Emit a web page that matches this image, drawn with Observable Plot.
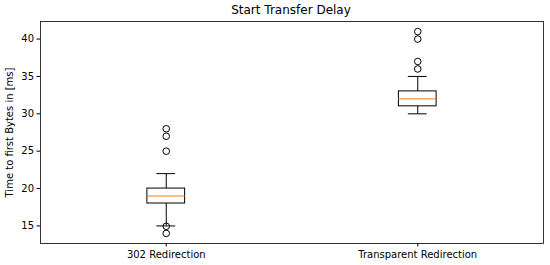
<!DOCTYPE html>
<html>
<head>
<meta charset="utf-8">
<script src="https://cdn.jsdelivr.net/npm/d3@7"></script>
<script src="https://cdn.jsdelivr.net/npm/@observablehq/plot@0.6"></script>
<style>
  body { margin: 0; background: #fff; font-family: "DejaVu Sans", sans-serif; }
  #title { width: 550px; height: 20px; position: relative; }
  #title span { position: absolute; left: 291px; top: 3px; transform: translateX(-50%); font-size: 12px; white-space: nowrap; color: #000; }
</style>
</head>
<body>
<div id="title"><span>Start Transfer Delay</span></div>
<div id="chart"></div>
<script>
const categories = ["302 Redirection", "Transparent Redirection"];
const positions = [1, 2];
const q1 = [18, 31];
const median = [19, 32];
const q3 = [20, 33];
const whiskerLow = [15, 30];
const whiskerHigh = [22, 35];
const outliers = [
  [28, 27, 25, 14.95, 14],
  [41, 40, 37, 36]
];
const yTicks = [15, 20, 25, 30, 35, 40];

const boxW = 0.15, capW = 0.075;
const stats = categories.map((c, i) => ({
  c, p: positions[i], q1: q1[i], med: median[i], q3: q3[i], lo: whiskerLow[i], hi: whiskerHigh[i]
}));
const outs = outliers.flatMap((arr, i) => arr.map(v => ({p: positions[i], v})));

const chart = Plot.plot({
  width: 550,
  height: 245,
  marginTop: 1,
  marginBottom: 22,
  marginLeft: 40,
  marginRight: 7,
  style: {fontFamily: "DejaVu Sans, sans-serif", fontSize: "10px", color: "#000", background: "#fff"},
  x: {domain: [0.5, 2.5], label: null},
  y: {domain: [12.65, 42.35], label: null},
  marks: [
    Plot.axisX({ticks: positions, tickFormat: d => categories[positions.indexOf(d)], tickSize: 3.5, tickPadding: 4, fontSize: 10, label: null}),
    Plot.axisY({ticks: yTicks, tickSize: 3.5, tickPadding: 3, fontSize: 10, label: null}),
    Plot.text(["Time to first Bytes in [ms]"], {frameAnchor: "left", dx: -31, rotate: -90, fontSize: 10, textAnchor: "middle"}),
    // whiskers
    Plot.ruleX(stats, {x: "p", y1: "q3", y2: "hi", stroke: "#000", strokeWidth: 1}),
    Plot.ruleX(stats, {x: "p", y1: "lo", y2: "q1", stroke: "#000", strokeWidth: 1}),
    // caps
    Plot.ruleY(stats, {y: "hi", x1: d => d.p - capW / 2, x2: d => d.p + capW / 2, stroke: "#000", strokeWidth: 1}),
    Plot.ruleY(stats, {y: "lo", x1: d => d.p - capW / 2, x2: d => d.p + capW / 2, stroke: "#000", strokeWidth: 1}),
    // boxes
    Plot.rect(stats, {x1: d => d.p - boxW / 2, x2: d => d.p + boxW / 2, y1: "q1", y2: "q3", fill: "#fff", stroke: "#000", strokeWidth: 1}),
    // medians
    Plot.ruleY(stats, {y: "med", x1: d => d.p - boxW / 2, x2: d => d.p + boxW / 2, stroke: "#ff7f0e", strokeWidth: 1}),
    // outliers
    Plot.dot(outs, {x: "p", y: "v", r: 3.3, stroke: "#000", fill: "none", strokeWidth: 1}),
    Plot.frame({stroke: "#000", strokeWidth: 0.8})
  ]
});
document.getElementById("chart").appendChild(chart);
</script>
</body>
</html>
